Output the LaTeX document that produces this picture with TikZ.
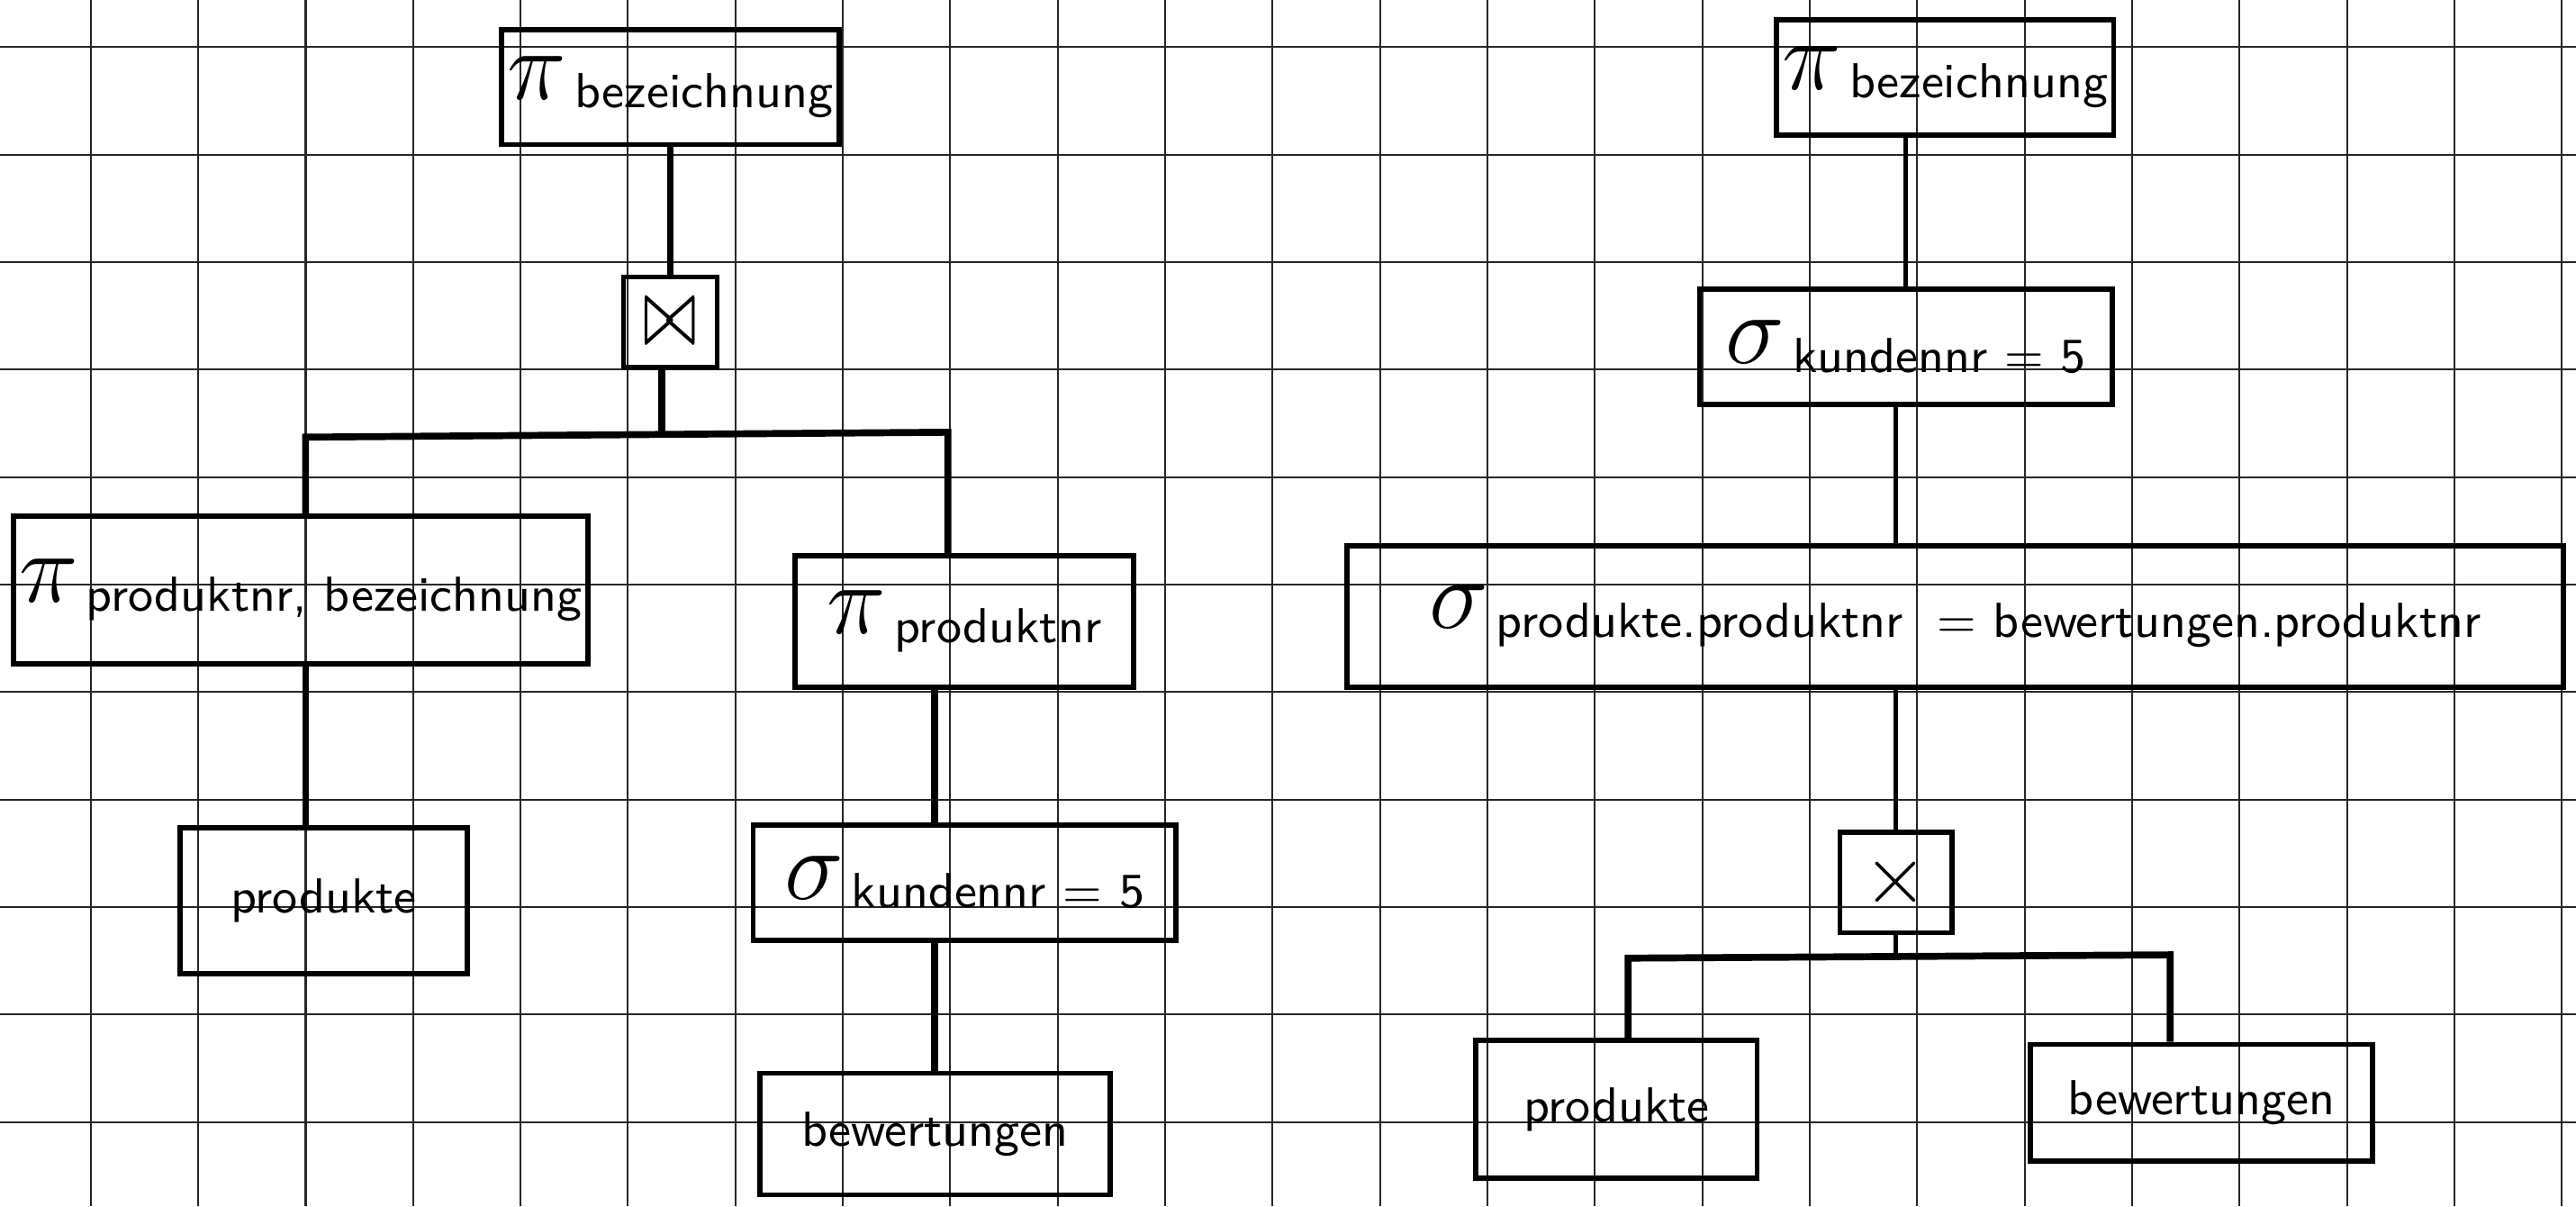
\documentclass[tikz,border=0pt]{standalone}
\usepackage{amsmath,amssymb}
\usepackage{graphicx}
\usepackage{tikz}
\usetikzlibrary{calc}

\newcommand{\relop}[2]{{\LARGE$#1$}\,\raisebox{-0.4ex}{#2}}

\begin{document}
\begin{tikzpicture}[x=0.01cm,y=-0.01cm,font=\sffamily\fontsize{8.5}{10}\selectfont,
  opbox/.style={draw,line width=0.9pt,inner sep=1pt},
  thicklink/.style={line width=1.2pt},
  thinlink/.style={line width=0.7pt},
  gridline/.style={line width=0.35pt,black!85}]
\useasboundingbox[fill=white] (0,0) rectangle (1568,734);
% squared paper
\foreach \k in {0,...,23} {
 \draw[gridline] ({55.2+65.4*\k},0)--++(0,734);
}
\foreach \k in {0,...,10} {
 \draw[gridline] (0,{28.7+65.4*\k})--++(1568,0);
}
% left tree
\node[opbox,minimum width=2.03cm,minimum height=0.70cm] (lproj) at (408,53) {\relop{\pi}{bezeichnung}};
\node[opbox,minimum width=0.57cm,minimum height=0.55cm] (ljoin) at (408,196) {\scalebox{1.3}[2]{$\bowtie$}};
\node[opbox,minimum width=3.48cm,minimum height=0.90cm] (lprojl) at (183,359) {\relop{\pi}{produktnr, bezeichnung}};
\node[opbox,minimum width=2.06cm,minimum height=0.80cm] (lprojr) at (587,378) {\relop{\pi}{produktnr}};
\node[opbox,minimum width=1.75cm,minimum height=0.89cm] (lprod) at (197,548) {produkte};
\node[opbox,minimum width=2.57cm,minimum height=0.70cm] (lsel) at (587,537) {\relop{\sigma}{kundennr = 5}};
\node[opbox,minimum width=2.13cm,minimum height=0.74cm] (lbew) at (569,690) {bewertungen};
\coordinate (lbar) at (403,264);
\coordinate (lbarl) at (186,266);
\coordinate (lbarr) at (577,263);
\draw[thicklink] (lproj.south)--(ljoin.north);
\draw[thicklink] (ljoin.south -| lbar)--(lbar);
\draw[thicklink] (lprojl.north -| lbarl)--(lbarl)--(lbarr)--(lprojr.north -| lbarr);
\draw[thicklink] (lprojl.south -| lbarl)--(lprod.north -| lbarl);
\draw[thicklink] (lprojr.south -| lbew)--(lsel.north -| lbew);
\draw[thicklink] (lsel.south -| lbew)--(lbew.north);
% right tree
\node[opbox,minimum width=2.02cm,minimum height=0.70cm] (rproj) at (1184,47) {\relop{\pi}{bezeichnung}};
\node[opbox,minimum width=2.51cm,minimum height=0.70cm] (rsel) at (1160,211) {\relop{\sigma}{kundennr = 5}};
\node[opbox,minimum width=7.40cm,minimum height=0.86cm] (rselj) at (1190,375) {\relop{\sigma}{produkte.produktnr \ = bewertungen.produktnr}};
\node[opbox,minimum width=0.68cm,minimum height=0.61cm] (rcross) at (1154,537) {\Large$\times$};
\node[opbox,minimum width=1.71cm,minimum height=0.84cm] (rprod) at (984,675) {produkte};
\node[opbox,minimum width=2.08cm,minimum height=0.71cm] (rbew) at (1340,671) {bewertungen};
\coordinate (rbarl) at (991,583);
\coordinate (rbarr) at (1321,581);
\draw[thinlink] (rproj.south -| rsel)--(rsel.north);
\draw[thinlink] (rsel.south -| rcross)--(rselj.north -| rcross);
\draw[thinlink] (rselj.south -| rcross)--(rcross.north);
\draw[thinlink] (rcross.south)--(rcross.south |- rbarl);
\draw[thicklink] (rprod.north -| rbarl)--(rbarl)--(rbarr)--(rbew.north -| rbarr);
\end{tikzpicture}
\end{document}
